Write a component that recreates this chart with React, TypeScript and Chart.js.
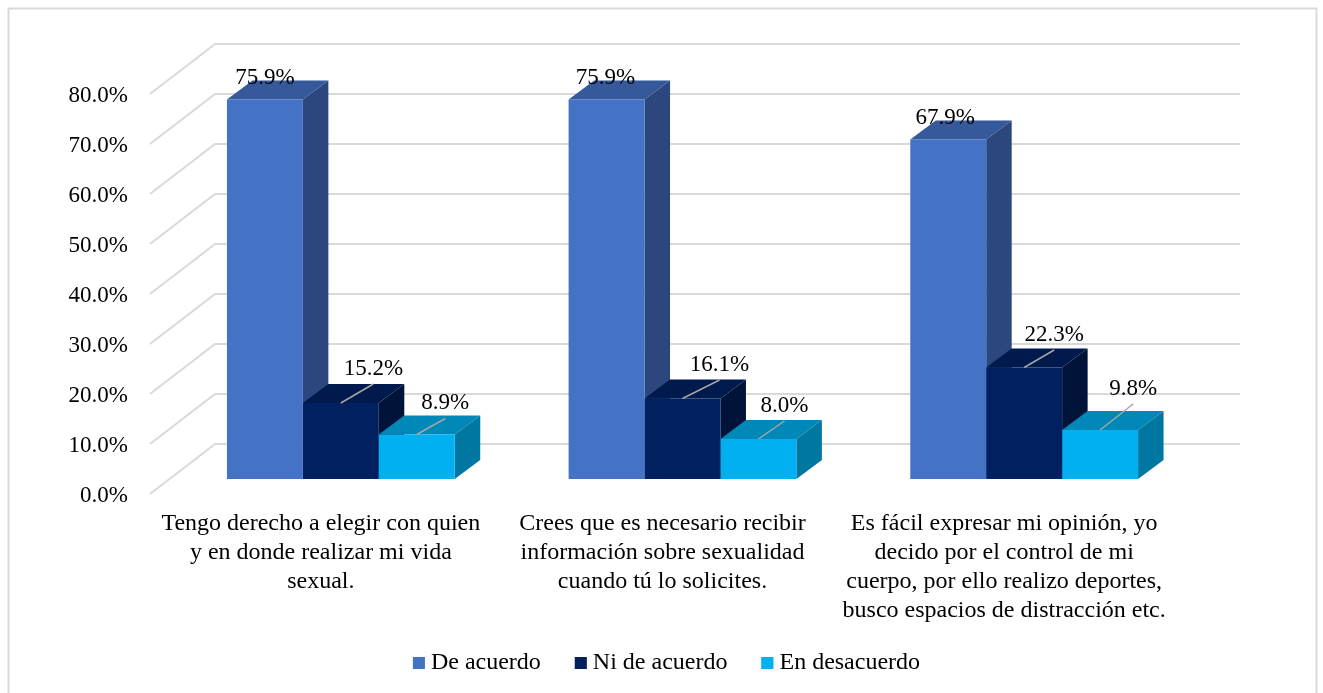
import React, { useEffect, useRef } from "react";
import { Chart, registerables } from "chart.js";

Chart.register(...registerables);

const categories = [
  ["Tengo derecho a elegir con quien", "y en donde realizar mi vida", "sexual."],
  ["Crees que es necesario recibir", "información sobre sexualidad", "cuando tú lo solicites."],
  ["Es fácil expresar mi opinión, yo", "decido por el control de mi", "cuerpo, por ello realizo deportes,", "busco espacios de distracción etc."],
];
const seriesNames = ["De acuerdo", "Ni de acuerdo", "En desacuerdo"];
const deAcuerdo = [75.9, 75.9, 67.9];
const niDeAcuerdo = [15.2, 16.1, 22.3];
const enDesacuerdo = [8.9, 8.0, 9.8];

const frontColors = ["#4472C4", "#002060", "#00B0F0"];
const topColors = ["#35599A", "#001A4D", "#0088B8"];
const sideColors = ["#2B477D", "#001338", "#0077A1"];

// label placement relative to the top of each bar's front face
const labelDx = [[0, -1, -3], [32.5, 37, 30], [28.5, 26, 33]];
const labelDy = [[-23.5, -23.5, -23.5], [-36, -35.5, -34.5], [-33, -35, -43]];

const FONT = '"Liberation Serif", "Times New Roman", serif';
const FONT_SIZE = 23;
const BAR_SHIFT_X = 20;
const BAR_SHIFT_Y = -15;
const DEPTH_X = 25.5;
const DEPTH_Y = -19;
const WALL_X = 65;
const WALL_Y = -50;
const GRID = "#D9D9D9";
const LEGEND_LIFT = 18;
const LEGEND_PADDING = 34;
const LEGEND_FONT = 24;

const threeD = {
  id: "threeD",
  afterLayout(chart: any) {
    const legend = chart.legend;
    legend.top -= LEGEND_LIFT;
    legend.bottom -= LEGEND_LIFT;
  },
  beforeDraw(chart: any) {
    const { ctx, width, height } = chart;
    ctx.save();
    ctx.fillStyle = "#fff";
    ctx.fillRect(0, 0, width, height);
    ctx.strokeStyle = GRID;
    ctx.lineWidth = 2;
    ctx.strokeRect(8.5, 8.5, 1308, 720);
    ctx.restore();
  },
  beforeDatasetsDraw(chart: any) {
    const { ctx, scales, chartArea } = chart;
    const y = scales.y;
    ctx.save();
    ctx.strokeStyle = GRID;
    ctx.lineWidth = 2;
    y.ticks.forEach((t: any) => {
      const py = y.getPixelForValue(t.value);
      ctx.beginPath();
      ctx.moveTo(chartArea.left, py);
      ctx.lineTo(chartArea.left + WALL_X, py + WALL_Y);
      ctx.lineTo(chartArea.right + WALL_X, py + WALL_Y);
      ctx.stroke();
    });
    ctx.translate(BAR_SHIFT_X, BAR_SHIFT_Y);
    chart.data.datasets.forEach((_: any, i: number) => {
      chart.getDatasetMeta(i).data.forEach((el: any) => {
        const l = el.x - el.width / 2;
        const r = el.x + el.width / 2;
        ctx.fillStyle = sideColors[i];
        ctx.beginPath();
        ctx.moveTo(r, el.y);
        ctx.lineTo(r + DEPTH_X, el.y + DEPTH_Y);
        ctx.lineTo(r + DEPTH_X, el.base + DEPTH_Y);
        ctx.lineTo(r, el.base);
        ctx.closePath();
        ctx.fill();
        ctx.fillStyle = topColors[i];
        ctx.beginPath();
        ctx.moveTo(l, el.y);
        ctx.lineTo(r, el.y);
        ctx.lineTo(r + DEPTH_X, el.y + DEPTH_Y);
        ctx.lineTo(l + DEPTH_X, el.y + DEPTH_Y);
        ctx.closePath();
        ctx.fill();
      });
    });
    // the native bars are the front faces, in the same shifted plane
    ctx.save();
  },
  afterDatasetsDraw(chart: any) {
    const { ctx } = chart;
    ctx.restore();
    ctx.font = `${FONT_SIZE}px ${FONT}`;
    ctx.textAlign = "center";
    ctx.textBaseline = "middle";
    chart.data.datasets.forEach((ds: any, i: number) => {
      chart.getDatasetMeta(i).data.forEach((el: any, j: number) => {
        const lx = el.x + labelDx[i][j];
        const ly = el.y + labelDy[i][j];
        if (i > 0) {
          ctx.strokeStyle = "#A6A6A6";
          ctx.lineWidth = 1.5;
          ctx.beginPath();
          ctx.moveTo(el.x, el.y);
          ctx.lineTo(lx, ly + 17);
          ctx.stroke();
        }
        ctx.fillStyle = "#000";
        ctx.fillText(ds.data[j].toFixed(1) + "%", lx, ly + 1.5);
      });
    });
    ctx.restore();
  },
  afterDraw(chart: any) {
    const { ctx, legend } = chart;
    const cy = legend.top + LEGEND_PADDING + LEGEND_FONT / 2;
    ctx.save();
    legend.legendHitBoxes.forEach((b: any, i: number) => {
      ctx.fillStyle = frontColors[i];
      ctx.fillRect(b.left, cy - 6, 12, 12);
    });
    ctx.restore();
  },
};

export default function App() {
  const ref = useRef<HTMLCanvasElement | null>(null);
  useEffect(() => {
    const chart = new Chart(ref.current as HTMLCanvasElement, {
      type: "bar",
      data: {
        labels: categories,
        datasets: [deAcuerdo, niDeAcuerdo, enDesacuerdo].map((data, i) => ({
          label: seriesNames[i],
          data,
          backgroundColor: frontColors[i],
          borderWidth: 0,
          barPercentage: 1,
          categoryPercentage: 2 / 3,
          clip: false as any,
        })),
      },
      options: {
        responsive: false,
        animation: false,
        layout: { padding: { top: 94, right: 0, left: 10, bottom: -10 } },
        plugins: {
          tooltip: { enabled: false },
          legend: {
            position: "bottom",
            onClick: () => {},
            labels: {
              boxWidth: 6,
              boxHeight: 12,
              padding: LEGEND_PADDING,
              color: "#000",
              font: { family: FONT, size: LEGEND_FONT },
            },
          },
        },
        scales: {
          x: {
            grid: { display: false, drawTicks: false },
            border: { display: false },
            afterFit: (s: any) => { s.height = 141; },
            ticks: {
              color: "#000",
              padding: 15,
              maxRotation: 0,
              autoSkip: false,
              font: { family: FONT, size: 24, lineHeight: 29 / 24 },
            },
          },
          y: {
            min: 0,
            max: 80,
            grid: { display: false, drawTicks: false },
            border: { display: false },
            afterFit: (s: any) => { s.width = 140; },
            ticks: {
              stepSize: 10,
              color: "#000",
              padding: 22,
              font: { family: FONT, size: FONT_SIZE, lineHeight: 4 / FONT_SIZE },
              callback: (v: any) => ["", Number(v).toFixed(1) + "%"],
            },
          },
          spacer: {
            position: "right",
            grid: { display: false, drawTicks: false },
            border: { display: false },
            ticks: { display: false },
            afterFit: (s: any) => { s.width = 148; },
          },
        },
      },
      plugins: [threeD],
    } as any);
    return () => chart.destroy();
  }, []);
  return (
    <canvas
      ref={ref}
      width={1323}
      height={693}
      style={{ position: "fixed", left: 0, top: 0, display: "block" }}
    />
  );
}
